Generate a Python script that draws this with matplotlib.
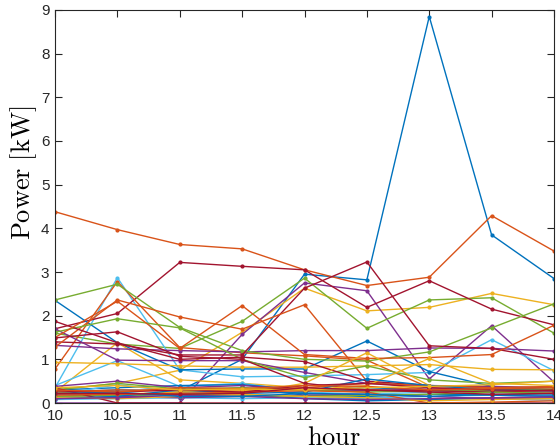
import matplotlib
matplotlib.use("Agg")
import matplotlib.pyplot as plt

# Half-hourly time axis
hours = [10, 10.5, 11, 11.5, 12, 12.5, 13, 13.5, 14]
x_tick_labels = ["10", "10.5", "11", "11.5", "12", "12.5", "13", "13.5", "14"]
y_ticks = [0, 1, 2, 3, 4, 5, 6, 7, 8, 9]

# Power profiles [kW], grouped by line colour
blue_loads = [
    [0.25, 0.30, 0.28, 1.00, 2.95, 2.82, 8.85, 3.85, 2.85],
    [2.35, 1.38, 0.76, 0.78, 0.78, 1.42, 0.72, 0.38, 0.30],
    [0.30, 0.35, 0.40, 0.42, 0.30, 0.35, 0.30, 0.25, 0.22],
    [0.15, 0.12, 0.25, 0.35, 0.18, 0.15, 0.20, 0.18, 0.15],
    [0.20, 0.18, 0.20, 0.20, 0.10, 0.05, 0.08, 0.12, 0.10],
    [0.10, 0.15, 0.30, 0.22, 0.25, 0.55, 0.40, 0.30, 0.28],
    [0.22, 0.25, 0.15, 0.15, 0.22, 0.20, 0.15, 0.20, 0.18],
]
orange_loads = [
    [4.38, 3.97, 3.63, 3.53, 3.05, 2.69, 2.88, 4.29, 3.48],
    [0.78, 2.78, 1.27, 1.15, 1.08, 0.98, 0.35, 0.30, 0.30],
    [1.28, 2.36, 1.97, 1.69, 2.25, 0.50, 0.30, 0.28, 0.25],
    [1.50, 2.33, 1.25, 2.23, 1.11, 1.02, 1.04, 1.11, 1.78],
    [0.25, 0.30, 0.28, 0.30, 0.35, 0.45, 0.40, 0.35, 0.38],
    [0.18, 0.20, 0.22, 0.25, 0.28, 0.25, 0.00, 0.02, 0.05],
    [0.30, 0.25, 0.35, 0.33, 0.40, 0.38, 0.30, 0.33, 0.35],
]
yellow_loads = [
    [0.30, 0.45, 0.75, 1.62, 2.63, 2.11, 2.19, 2.51, 2.25],
    [0.25, 1.38, 0.53, 0.45, 0.35, 0.30, 0.28, 0.25, 0.30],
    [0.93, 0.90, 0.85, 0.82, 0.82, 0.85, 0.88, 0.77, 0.76],
    [0.15, 0.18, 0.20, 0.22, 0.45, 1.15, 0.40, 0.30, 0.30],
    [0.25, 0.20, 0.25, 0.28, 0.30, 0.40, 1.02, 0.45, 0.40],
    [0.12, 0.10, 0.15, 0.20, 0.15, 0.12, 0.05, 0.08, 0.10],
    [0.35, 0.40, 0.30, 0.32, 0.30, 0.35, 0.38, 0.42, 0.50],
]
purple_loads = [
    [0.00, 0.00, 0.00, 1.57, 2.75, 2.57, 0.55, 1.77, 0.48],
    [1.32, 1.24, 1.20, 1.17, 1.20, 1.20, 1.26, 1.25, 1.19],
    [1.70, 0.98, 0.97, 0.97, 0.70, 0.45, 0.40, 0.38, 0.35],
    [0.38, 0.50, 0.35, 0.40, 0.30, 0.28, 0.32, 0.30, 0.28],
    [0.20, 0.15, 0.12, 0.15, 0.18, 0.20, 0.15, 0.10, 0.12],
    [0.10, 0.12, 0.18, 0.15, 0.10, 0.08, 0.10, 0.12, 0.14],
]
green_loads = [
    [1.60, 1.35, 1.25, 1.87, 2.86, 1.71, 2.36, 2.41, 1.60],
    [2.36, 2.72, 1.73, 1.20, 1.00, 0.96, 1.17, 1.72, 2.27],
    [1.62, 1.93, 1.72, 1.00, 0.58, 0.85, 0.53, 0.45, 0.50],
    [0.30, 0.45, 0.32, 0.35, 0.30, 0.25, 0.28, 0.30, 0.32],
    [0.15, 0.18, 0.20, 0.18, 0.15, 0.18, 0.20, 0.25, 0.22],
]
lightblue_loads = [
    [0.35, 2.87, 0.76, 0.60, 0.62, 0.65, 0.70, 1.45, 0.74],
    [0.40, 0.97, 0.38, 0.45, 0.25, 0.20, 0.25, 0.30, 0.20],
    [0.18, 0.42, 0.25, 0.20, 0.15, 0.12, 0.15, 0.18, 0.15],
    [0.08, 0.10, 0.12, 0.10, 0.12, 0.10, 0.08, 0.10, 0.06],
]
darkred_loads = [
    [1.70, 2.05, 3.22, 3.13, 3.05, 2.19, 2.80, 2.15, 1.79],
    [1.40, 1.35, 1.10, 1.10, 2.63, 3.23, 1.31, 1.25, 1.00],
    [1.87, 1.38, 1.00, 1.05, 0.95, 0.50, 0.40, 0.35, 0.30],
    [1.49, 1.63, 1.07, 1.00, 0.45, 0.30, 0.28, 0.25, 0.30],
    [0.35, 0.00, 0.00, 0.00, 0.00, 0.00, 0.00, 0.00, 0.00],
    [0.28, 0.25, 0.30, 0.25, 0.40, 0.45, 0.35, 0.30, 0.28],
    [0.22, 0.22, 0.20, 0.22, 0.35, 0.30, 0.25, 0.20, 0.22],
]

groups = [
    (blue_loads, "#0072BD"),
    (orange_loads, "#D95319"),
    (yellow_loads, "#EDB120"),
    (purple_loads, "#7E2F8E"),
    (green_loads, "#77AC30"),
    (lightblue_loads, "#4DBEEE"),
    (darkred_loads, "#A2142F"),
]

plt.rcParams["mathtext.fontset"] = "cm"
plt.rcParams["font.family"] = ["Liberation Sans", "DejaVu Sans"]

fig = plt.figure(figsize=(5.6, 4.48), dpi=100)
ax = fig.add_axes([55 / 560, 45 / 448, 499 / 560, 393 / 448])

# interleave colours so no single colour sits entirely on top
max_len = max(len(g[0]) for g in groups)
for i in range(max_len):
    for loads, color in groups:
        if i < len(loads):
            ax.plot(hours, loads[i], color=color, lw=1.0, marker=".",
                    markersize=4, solid_joinstyle="miter")

ax.set_xlim(10, 14)
ax.set_ylim(0, 9)
ax.set_xticks(hours)
ax.set_xticklabels(x_tick_labels)
ax.set_yticks(y_ticks)

axis_gray = "#262626"
for s in ax.spines.values():
    s.set_color(axis_gray)
    s.set_linewidth(0.8)
ax.tick_params(direction="in", top=True, right=True, length=5, width=0.8,
               color=axis_gray, labelcolor=axis_gray, labelsize=11, pad=4)

ax.set_xlabel(r"$\mathrm{hour}$", fontsize=19, va="baseline", ha="center")
ax.xaxis.set_label_coords(0.559, -0.107)
ax.set_ylabel(r"$\mathrm{Power\ [kW]}$", fontsize=19, va="center", ha="center")
ax.yaxis.set_label_coords(-0.062, 0.585)

fig.savefig("out.png", dpi=100)
